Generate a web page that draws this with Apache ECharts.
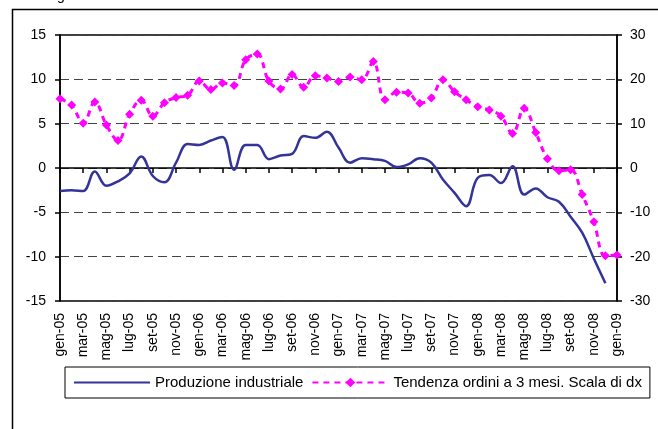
<!DOCTYPE html>
<html><head><meta charset="utf-8">
<script src="https://cdn.jsdelivr.net/npm/echarts@6/dist/echarts.min.js"></script>
<style>html,body{margin:0;padding:0;background:#fff}#c{width:658px;height:429px}</style>
</head><body><div id="c"></div>
<script>
var months = ['gen','feb','mar','apr','mag','giu','lug','ago','set','ott','nov','dic'];
var categories = [];
for (var y = 5; y <= 9; y++) { for (var m = 0; m < 12; m++) { if (y === 9 && m > 0) break; categories.push(months[m] + '-0' + y); } }
var produzione = [-2.6,-2.5,-2.6,-0.4,-2.0,-1.5,-0.6,1.3,-0.9,-1.6,0.6,2.7,2.6,3.1,3.5,-0.2,2.6,2.6,1.0,1.4,1.6,3.6,3.4,4.1,2.3,0.6,1.1,1.0,0.8,0.1,0.4,1.1,0.6,-1.3,-2.8,-4.3,-1.1,-0.8,-1.7,0.2,-3.0,-2.3,-3.3,-3.8,-5.5,-7.3,-10.2,-13.0,null];
var ordini = [15.6,14.2,10.1,14.9,9.7,6.2,12.1,15.3,11.7,14.7,15.9,16.4,19.6,17.7,19.2,18.6,24.4,25.7,19.6,17.8,21.1,18.2,20.8,20.3,19.5,20.5,19.9,24.0,15.4,17.1,16.9,14.6,15.8,19.9,17.2,15.4,13.8,13.1,11.7,7.8,13.5,8.0,2.1,-0.6,-0.4,-6.0,-12.1,-19.8,-19.6];
var leftTicks = {min: -15, max: 15, interval: 5};
var rightTicks = {min: -30, max: 30, interval: 10};
var seriesNames = ['Produzione industriale', 'Tendenza ordini a 3 mesi. Scala di dx'];

var FONT = 'Liberation Sans, Arial, sans-serif';
var chart = echarts.init(document.getElementById('c'), null, {renderer: 'canvas'});
chart.setOption({
  animation: false,
  backgroundColor: '#fff',
  textStyle: {fontFamily: FONT},
  graphic: [
    {type: 'rect', z: -10, silent: true, shape: {x: 12.5, y: 9.5, width: 700, height: 500}, style: {fill: 'none', stroke: '#000', lineWidth: 1.5}},
    {type: 'text', left: 57, top: -11, style: {text: 'g', font: '14px ' + FONT, fill: '#000'}}
  ],
  grid: {left: 60, right: 41, top: 35, bottom: 128, show: true, borderColor: '#000', borderWidth: 1.5, backgroundColor: 'transparent'},
  legend: {
    left: 65, top: 367, padding: [8, 8], itemGap: 8, itemWidth: 76, itemHeight: 12,
    borderColor: '#000', borderWidth: 1, borderRadius: 0,
    textStyle: {fontSize: 15, color: '#000', fontFamily: FONT},
    data: [{name: seriesNames[0], itemStyle: {opacity: 0}}, {name: seriesNames[1]}]
  },
  xAxis: [
    {type: 'category', data: categories, boundaryGap: false, position: 'bottom',
     axisLine: {show: false, onZero: false}, axisTick: {show: false}, splitLine: {show: false},
     axisLabel: {interval: 1, rotate: 90, fontSize: 14, color: '#000', margin: 12, fontFamily: FONT}},
    {type: 'category', data: categories, boundaryGap: false, position: 'top',
     axisLine: {show: true, onZero: true, onZeroAxisIndex: 0, lineStyle: {color: '#000', width: 1.5}},
     axisTick: {show: true, interval: 1, inside: true, length: 5, lineStyle: {color: '#000', width: 1.5}},
     axisLabel: {show: false}, splitLine: {show: false}}
  ],
  yAxis: [
    {type: 'value', min: leftTicks.min, max: leftTicks.max, interval: leftTicks.interval, position: 'left',
     axisLine: {show: true, lineStyle: {color: '#000', width: 1.5}},
     axisTick: {show: true, length: 5, lineStyle: {color: '#000', width: 1.5}},
     axisLabel: {fontSize: 14, color: '#000', margin: 14, fontFamily: FONT},
     splitLine: {show: true, lineStyle: {color: '#444', width: 1, type: [9, 5]}}},
    {type: 'value', min: rightTicks.min, max: rightTicks.max, interval: rightTicks.interval, position: 'right',
     axisLine: {show: true, lineStyle: {color: '#000', width: 1.5}},
     axisTick: {show: true, length: 5, lineStyle: {color: '#000', width: 1.5}},
     axisLabel: {fontSize: 14, color: '#000', margin: 13, fontFamily: FONT},
     splitLine: {show: false}}
  ],
  series: [
    {name: seriesNames[0], type: 'line', xAxisIndex: 0, yAxisIndex: 0, data: produzione, smooth: 0.4,
     symbol: 'none', lineStyle: {color: '#333399', width: 2.5}, itemStyle: {color: '#333399'}, z: 3},
    {name: seriesNames[1], type: 'line', xAxisIndex: 0, yAxisIndex: 1, data: ordini, smooth: 0.4,
     symbol: 'diamond', symbolSize: 9, showSymbol: true, showAllSymbol: true,
     lineStyle: {color: '#ff00ff', width: 3, type: [6, 5]}, itemStyle: {color: '#ff00ff'}, z: 2}
  ]
});
</script></body></html>
